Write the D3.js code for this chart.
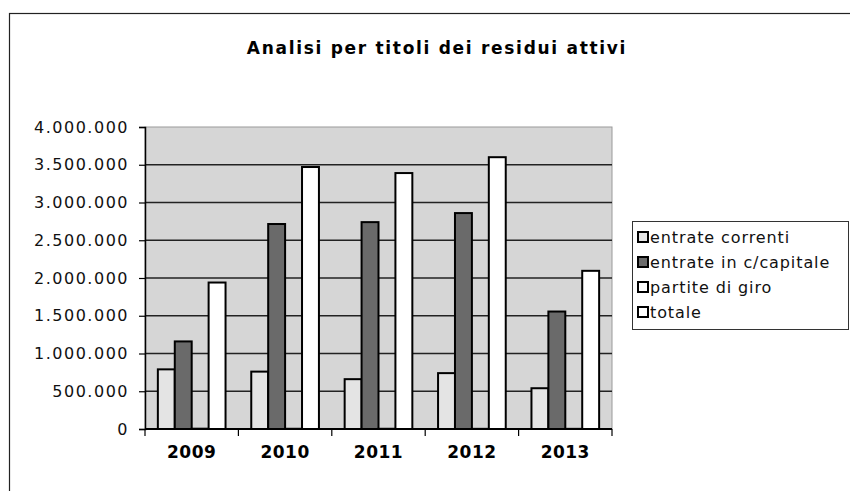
<html>
    <head>
        <script src="https://d3js.org/d3.v7.min.js"></script>
        <style>
            body { margin: 0; background: #ffffff; }
            svg { display: block; }
        </style>
    </head>
    <body>
        <svg id="chart"></svg>
        <script>
            var width = 850, height = 491;

            /* dati */
            var anni = ["2009", "2010", "2011", "2012", "2013"];
            var serie = ["entrate correnti", "entrate in c/capitale", "partite di giro", "totale"];
            var entrateCorrenti = [790000, 760000, 660000, 740000, 540000];
            var entrateCapitale = [1160000, 2715000, 2740000, 2860000, 1556000];
            var partiteGiro = [4000, 3000, 3000, 2000, 2000];
            var totale = [1940000, 3470000, 3390000, 3600000, 2095000];
            var yTicks = [0, 500000, 1000000, 1500000, 2000000, 2500000, 3000000, 3500000, 4000000];

            var valori = [entrateCorrenti, entrateCapitale, partiteGiro, totale];
            var colori = ["#e4e4e4", "#6a6a6a", "#ffffff", "#ffffff"];

            var svg = d3.select("#chart").attr("width", width).attr("height", height);

            /* cornice esterna */
            svg.append("rect")
                .attr("x", 9.5).attr("y", 13.5)
                .attr("width", 860).attr("height", 500)
                .attr("fill", "#ffffff")
                .attr("stroke", "#222").attr("stroke-width", 1.2);

            /* titolo */
            svg.append("text")
                .attr("x", 437).attr("y", 54)
                .attr("text-anchor", "middle")
                .style("font-family", "DejaVu Sans, Verdana, sans-serif")
                .style("font-weight", "bold")
                .style("font-size", "17px")
                .style("letter-spacing", "1.7px")
                .text("Analisi per titoli dei residui attivi");

            var pLeft = 145, pRight = 612, pTop = 127, pBottom = 429;

            var x = d3.scaleBand().domain(anni).range([pLeft, pRight]).paddingInner(0).paddingOuter(0);
            var xs = d3.scaleBand().domain(d3.range(serie.length))
                .range([0, x.bandwidth()]).paddingInner(0).paddingOuter(0.76);
            var y = d3.scaleLinear().domain([0, 4000000]).range([pBottom, pTop]);

            /* sfondo area del grafico */
            svg.append("rect")
                .attr("x", pLeft).attr("y", pTop)
                .attr("width", pRight - pLeft).attr("height", pBottom - pTop)
                .attr("fill", "#d6d6d6")
                .attr("stroke", "#9a9a9a").attr("stroke-width", 1);

            /* griglia */
            svg.selectAll("line.grid").data(yTicks.slice(1, -1)).enter()
                .append("line")
                .attr("class", "grid")
                .attr("x1", pLeft).attr("x2", pRight)
                .attr("y1", d => y(d)).attr("y2", d => y(d))
                .attr("stroke", "#222").attr("stroke-width", 1.3);

            /* barre */
            var gruppi = svg.selectAll("g.anno").data(anni).enter()
                .append("g")
                .attr("class", "anno")
                .attr("transform", d => "translate(" + x(d) + ",0)");

            gruppi.selectAll("rect")
                .data((d, i) => valori.map((s, j) => ({ serie: j, v: s[i] })))
                .enter()
                .append("rect")
                .attr("x", d => xs(d.serie))
                .attr("y", d => y(d.v))
                .attr("width", xs.bandwidth())
                .attr("height", d => y(0) - y(d.v))
                .attr("fill", d => colori[d.serie])
                .attr("stroke", "#000").attr("stroke-width", 2);

            /* asse y */
            var yAxis = svg.append("g")
                .attr("transform", "translate(" + pLeft + ",0)")
                .call(d3.axisLeft(y).tickValues(yTicks).tickSize(6).tickPadding(10)
                    .tickFormat(d => d3.format(",")(d).replace(/,/g, ".")));
            yAxis.select(".domain").attr("stroke", "#000").attr("stroke-width", 1.5);
            yAxis.selectAll(".tick line").attr("stroke", "#000").attr("stroke-width", 1.2);
            yAxis.selectAll("text")
                .style("font-family", "DejaVu Sans, Verdana, sans-serif")
                .style("font-size", "16px")
                .style("letter-spacing", "1.5px")
                .attr("fill", "#111");

            /* asse x */
            svg.append("line")
                .attr("x1", pLeft).attr("x2", pRight)
                .attr("y1", pBottom).attr("y2", pBottom)
                .attr("stroke", "#000").attr("stroke-width", 2);
            svg.selectAll("line.xtick").data(anni.concat(["fine"])).enter()
                .append("line")
                .attr("class", "xtick")
                .attr("x1", (d, i) => pLeft + i * x.step())
                .attr("x2", (d, i) => pLeft + i * x.step())
                .attr("y1", pBottom).attr("y2", pBottom + 7)
                .attr("stroke", "#000").attr("stroke-width", 1.2);
            svg.selectAll("text.xlab").data(anni).enter()
                .append("text")
                .attr("class", "xlab")
                .attr("x", d => x(d) + x.bandwidth() / 2)
                .attr("y", 458)
                .attr("text-anchor", "middle")
                .style("font-family", "DejaVu Sans, Verdana, sans-serif")
                .style("font-weight", "bold")
                .style("font-size", "17px")
                .style("letter-spacing", "0.5px")
                .text(d => d);

            /* legenda */
            var legenda = svg.append("g").attr("transform", "translate(632,221)");
            legenda.append("rect")
                .attr("x", 0.5).attr("y", 0.5)
                .attr("width", 216).attr("height", 108)
                .attr("fill", "#fff")
                .attr("stroke", "#333").attr("stroke-width", 1);
            var voci = legenda.selectAll("g.voce").data(serie).enter()
                .append("g")
                .attr("class", "voce")
                .attr("transform", (d, i) => "translate(0," + (16 + i * 25) + ")");
            voci.append("rect")
                .attr("x", 6).attr("y", -5)
                .attr("width", 10).attr("height", 10)
                .attr("fill", (d, i) => colori[i])
                .attr("stroke", "#000").attr("stroke-width", 2);
            voci.append("text")
                .attr("x", 18).attr("y", 6)
                .style("font-family", "DejaVu Sans, Verdana, sans-serif")
                .style("font-size", "16px")
                .style("letter-spacing", "0.9px")
                .attr("fill", "#111")
                .text(d => d);
        </script>
    </body>
</html>
